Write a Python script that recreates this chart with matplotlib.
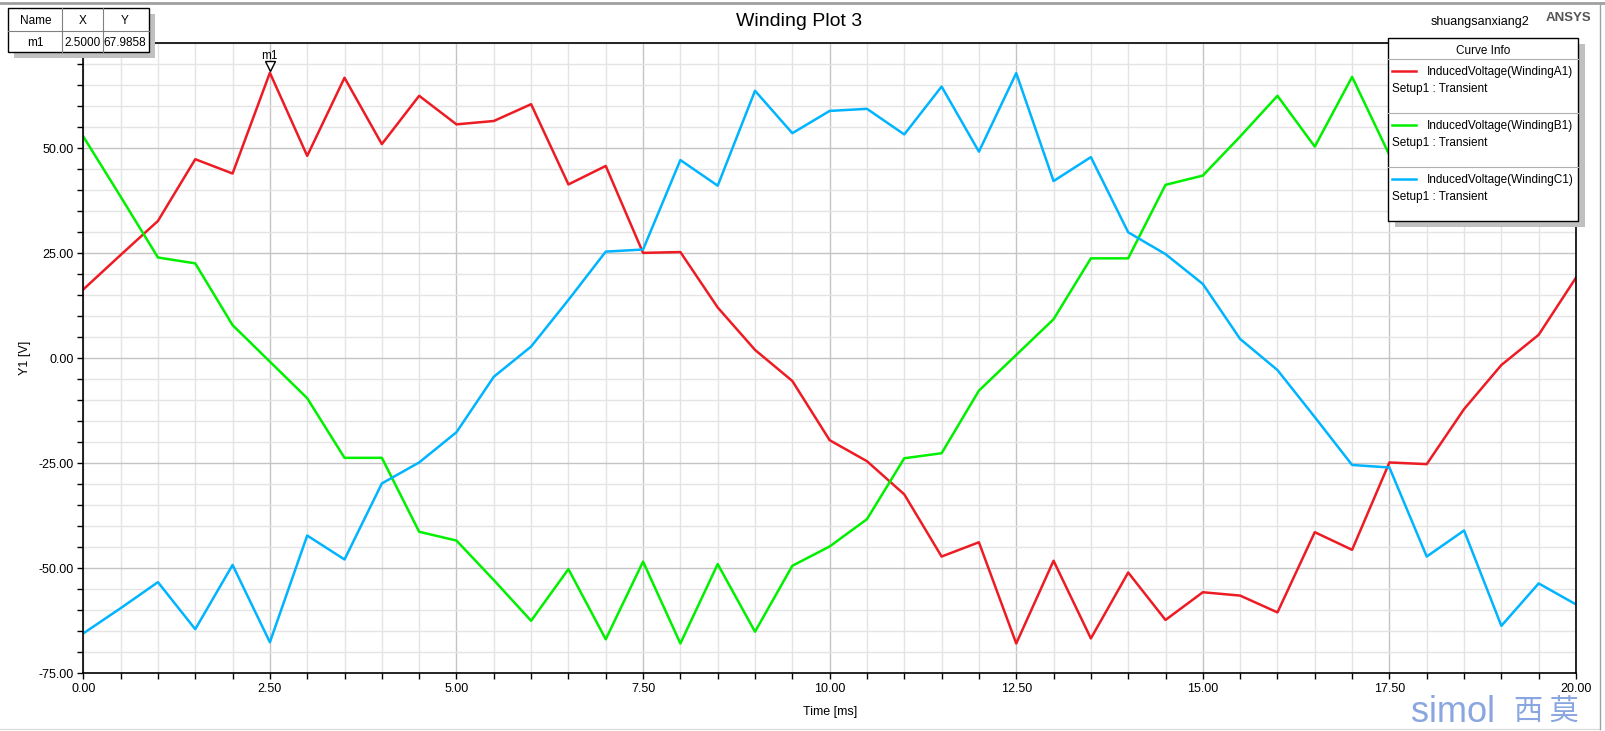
import numpy as np
import matplotlib.pyplot as plt
from matplotlib.patches import Rectangle
from matplotlib.lines import Line2D
from matplotlib.ticker import MultipleLocator, FormatStrFormatter

plt.rcParams['font.family'] = ['Liberation Sans', 'DejaVu Sans']

# Time axis [ms], sample every 0.5 ms
tid = np.arange(0, 20.01, 0.5)

windingA1 = [16.4, 24.6, 32.7, 47.4, 44.0, 67.9858, 48.2, 66.8, 51.0, 62.5,
             55.7, 56.5, 60.5, 41.4, 45.8, 25.1, 25.3, 12.1, 2.0, -5.4,
             -19.5, -24.5, -32.4, -47.2, -43.8, -67.9, -48.2, -66.7, -51.0, -62.3,
             -55.7, -56.5, -60.5, -41.4, -45.6, -24.8, -25.2, -12.1, -1.6, 5.6,
             19.2]
windingB1 = [52.8, 38.5, 24.0, 22.6, 7.9, -0.8, -9.5, -23.7, -23.7, -41.3,
             -43.4, -52.8, -62.5, -50.2, -66.9, -48.4, -67.9, -49.0, -65.1, -49.4,
             -44.8, -38.3, -23.8, -22.6, -7.7, 0.8, 9.3, 23.8, 23.8, 41.3,
             43.5, 52.8, 62.5, 50.4, 67.0, 48.4, 67.9, 49.0, 65.1, 49.4,
             44.8]
windingC1 = [-65.5, -59.5, -53.3, -64.5, -49.2, -67.6, -42.2, -47.9, -29.8, -24.8,
             -17.6, -4.4, 2.8, 13.9, 25.4, 25.9, 47.2, 41.1, 63.7, 53.6,
             58.9, 59.4, 53.3, 64.7, 49.2, 67.9, 42.2, 47.9, 30.0, 24.8,
             17.7, 4.6, -2.8, -14.0, -25.4, -26.0, -47.2, -41.0, -63.7, -53.6,
             -58.6]

navn = ['InducedVoltage(WindingA1)', 'InducedVoltage(WindingB1)', 'InducedVoltage(WindingC1)']
farger = ['#ED1C24', '#00F000', '#00B4FF']

W, H = 1606, 731
def fx(px):  # pixel -> figure fraction
    return px / W
def fy(py):
    return 1 - py / H

fig = plt.figure(figsize=(W / 100, H / 100), dpi=100)
ax = fig.add_axes([fx(83.3), fy(673.3), fx(1576) - fx(83.3), fy(43.3) - fy(673.3)])

for y, c in zip([windingA1, windingB1, windingC1], farger):
    ax.plot(tid, y, color=c, lw=1.8)

ax.set_xlim(0, 20)
ax.set_ylim(-75, 75)
ax.xaxis.set_major_locator(MultipleLocator(2.5))
ax.xaxis.set_minor_locator(MultipleLocator(0.5))
ax.xaxis.set_major_formatter(FormatStrFormatter('%.2f'))
ax.yaxis.set_major_formatter(FormatStrFormatter('%.2f'))
ax.set_yticks([-75, -50, -25, 0, 25, 50])
ax.yaxis.set_minor_locator(MultipleLocator(5))
ax.grid(which='major', color='#c4c4c4', lw=1)
ax.grid(which='minor', color='#e4e4e4', lw=1)
ax.set_axisbelow(True)
ax.tick_params(which='both', length=4, width=1, labelsize=9, pad=3, color='black')
for s in ax.spines.values():
    s.set_linewidth(1.2)

ax.set_xlabel('Time [ms]', fontsize=9, labelpad=8)
ax.set_ylabel('Y1 [V]', fontsize=9, labelpad=5)

# marker m1
ax.plot([2.5], [69.6], marker='v', markersize=7, markerfacecolor='white',
        markeredgecolor='black', markeredgewidth=1, clip_on=False, zorder=5)
ax.text(2.5, 72.0, 'm1', ha='center', va='center', fontsize=8.5, clip_on=False)

# title and header text
fig.text(fx(799), fy(21.5), 'Winding Plot 3', ha='center', va='center', fontsize=14)
fig.text(fx(1480), fy(21.7), 'shuangsanxiang2', ha='center', va='center', fontsize=9)
fig.text(fx(1568), fy(18.3), 'ANSYS', ha='center', va='center', fontsize=9.5,
         fontweight='bold', color='#555555')

# outer frame
fig.add_artist(Line2D([0, 1], [fy(2.5), fy(2.5)], color='#a0a0a0', lw=2))
fig.add_artist(Line2D([0, fx(1600)], [fy(729), fy(729)], color='#dddddd', lw=1))
fig.add_artist(Line2D([fx(1600), fx(1600)], [fy(3), fy(729)], color='#a0a0a0', lw=1))

# marker table
fig.add_artist(Rectangle((fx(14), fy(58)), fx(141), fy(8.3) - fy(52.3),
                         facecolor='#c0c0c0', edgecolor='none', zorder=4))
fig.add_artist(Rectangle((fx(8.3), fy(52.3)), fx(141), fy(8.3) - fy(52.3),
                         facecolor='white', edgecolor='black', lw=1, zorder=4))
fig.add_artist(Line2D([fx(8.3), fx(149.3)], [fy(30.7), fy(30.7)], color='#808080', lw=0.8, zorder=5))
for xs in [61.7, 102.7]:
    fig.add_artist(Line2D([fx(xs), fx(xs)], [fy(8.3), fy(52.3)], color='#808080', lw=0.8, zorder=5))
for txt, xs in zip(['Name', 'X', 'Y'], [35.7, 82.3, 125]):
    fig.text(fx(xs), fy(21), txt, ha='center', va='center', fontsize=8.5, zorder=6)
for txt, xs in zip(['m1', '2.5000', '67.9858'], [35.7, 82.3, 125]):
    fig.text(fx(xs), fy(43), txt, ha='center', va='center', fontsize=8.5, zorder=6)

# legend box "Curve Info"
lx0, lx1, ly0, ly1 = 1387.7, 1578.3, 37.7, 220.7
fig.add_artist(Rectangle((fx(lx0 + 7), fy(ly1 + 6)), fx(lx1 - lx0), fy(ly0) - fy(ly1),
                         facecolor='#c0c0c0', edgecolor='none', zorder=4))
fig.add_artist(Rectangle((fx(lx0), fy(ly1)), fx(lx1 - lx0), fy(ly0) - fy(ly1),
                         facecolor='white', edgecolor='black', lw=1, zorder=4))
fig.text(fx((lx0 + lx1) / 2), fy(51.5), 'Curve Info', ha='center', va='center', fontsize=8.5, zorder=6)
for i, (n, c) in enumerate(zip(navn, farger)):
    y0 = 59.3 + i * 54
    fig.add_artist(Line2D([fx(lx0), fx(lx1)], [fy(y0), fy(y0)], color='#b0b0b0', lw=0.8, zorder=5))
    fig.add_artist(Line2D([fx(1392.3), fx(1416)], [fy(y0 + 11.5), fy(y0 + 11.5)], color=c, lw=1.8, zorder=5))
    fig.text(fx(1427.3), fy(y0 + 13), n, ha='left', va='center', fontsize=8.5, zorder=6)
    fig.text(fx(1392.3), fy(y0 + 29.5), 'Setup1 : Transient', ha='left', va='center', fontsize=8.5, zorder=6)

# watermark
fig.text(fx(1411), fy(713), 'simol', ha='left', va='center', fontsize=26, color='#8aa6e0')
fig.text(fx(1514), fy(713), '西 莫', ha='left', va='center', fontsize=21, color='#8aa6e0',
         family=['Noto Sans CJK SC', 'DejaVu Sans'])

fig.savefig('out.png', dpi=100)
